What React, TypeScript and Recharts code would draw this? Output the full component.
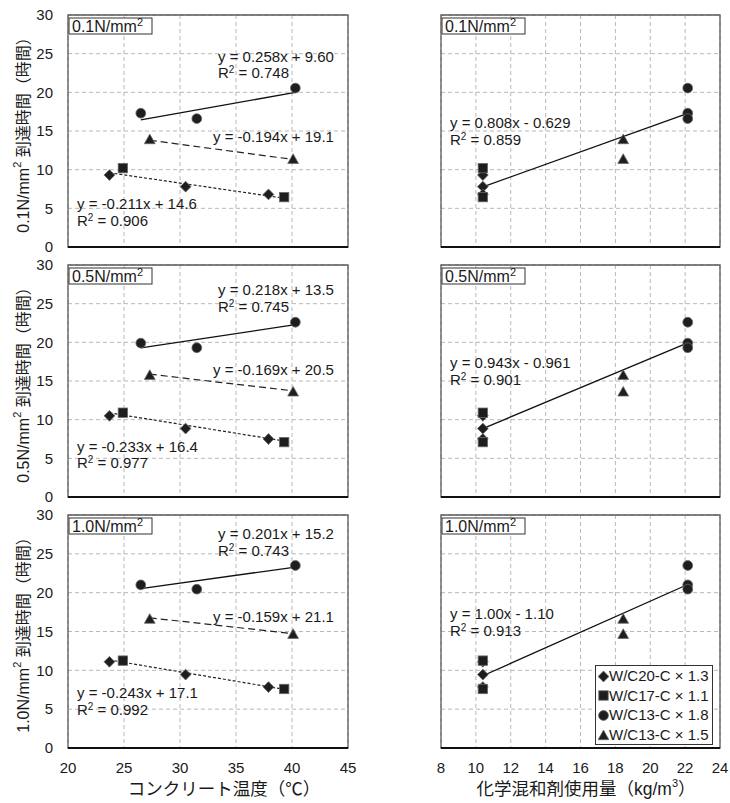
import React from 'react';
import {
  ScatterChart,
  Scatter,
  XAxis,
  YAxis,
  CartesianGrid,
  ReferenceLine,
  ReferenceArea,
  Legend,
} from 'recharts';

const FONT = '"Liberation Sans", Arial, "Noto Sans CJK JP", sans-serif';

const levels = ['0.1', '0.5', '1.0'];
const seriesNames = ['W/C20-C × 1.3', 'W/C17-C × 1.1', 'W/C13-C × 1.8', 'W/C13-C × 1.5'];

// コンクリート温度 (°C)
const tempW20 = [23.7, 30.5, 37.9];
const tempW17 = [24.9, 39.3];
const tempC18 = [26.5, 31.5, 40.3];
const tempC15 = [27.3, 40.1];

// 化学混和剤使用量 (kg/m3)
const doseW20 = [10.4, 10.4, 10.4];
const doseW17 = [10.4, 10.4];
const doseC18 = [22.15, 22.15, 22.15];
const doseC15 = [18.45, 18.45];

// 到達時間 (h), one row per stress level
const hoursW20 = [[9.3, 7.8, 6.8], [10.5, 8.85, 7.5], [11.1, 9.45, 7.85]];
const hoursW17 = [[10.2, 6.45], [10.9, 7.1], [11.25, 7.6]];
const hoursC18 = [[17.3, 16.6, 20.55], [19.9, 19.3, 22.6], [21.0, 20.45, 23.5]];
const hoursC15 = [[13.9, 11.35], [15.75, 13.6], [16.6, 14.65]];

// trend lines [slope, intercept]
const fitC18 = [[0.258, 9.6], [0.218, 13.5], [0.201, 15.2]];
const fitC15 = [[-0.194, 19.1], [-0.169, 20.5], [-0.159, 21.1]];
const fitW = [[-0.211, 14.6], [-0.233, 16.4], [-0.243, 17.1]];
const fitDose = [[0.808, -0.629], [0.943, -0.961], [1.0, -1.1]];

const eqC18 = ['y = 0.258x + 9.60', 'y = 0.218x + 13.5', 'y = 0.201x + 15.2'];
const r2C18 = ['0.748', '0.745', '0.743'];
const eqC15 = ['y = -0.194x + 19.1', 'y = -0.169x + 20.5', 'y = -0.159x + 21.1'];
const eqW = ['y = -0.211x + 14.6', 'y = -0.233x + 16.4', 'y = -0.243x + 17.1'];
const r2W = ['0.906', '0.977', '0.992'];
const eqDose = ['y = 0.808x - 0.629', 'y = 0.943x - 0.961', 'y = 1.00x - 1.10'];
const r2Dose = ['0.859', '0.901', '0.913'];

const yTicks = [0, 5, 10, 15, 20, 25, 30];
const tempTicks = [20, 25, 30, 35, 40, 45];
const doseTicks = [8, 10, 12, 14, 16, 18, 20, 22, 24];

// label baselines (px inside each chart): [eqC18, r2C18, eqC15, eqW, r2W, eqDose, r2Dose]
const labelY = [
  [62, 78, 142, 209, 226, 128, 145],
  [45, 62, 125, 202, 218, 118, 135],
  [39, 56, 122, 198, 215, 119, 136],
];

const MARK_FILL = '#1e1e1e';
const MARK_STROKE = '#6a6a6a';

function Marker({ kind, cx, cy }: { kind: number; cx: number; cy: number }) {
  if (kind === 0) {
    const r = 5.4;
    return (
      <path
        d={`M${cx},${cy - r}L${cx + r},${cy}L${cx},${cy + r}L${cx - r},${cy}Z`}
        fill={MARK_FILL}
        stroke={MARK_STROKE}
        strokeWidth={0.8}
      />
    );
  }
  if (kind === 1) {
    return <rect x={cx - 4.7} y={cy - 4.7} width={9.4} height={9.4} fill={MARK_FILL} stroke={MARK_STROKE} strokeWidth={0.8} />;
  }
  if (kind === 2) {
    return <circle cx={cx} cy={cy} r={4.9} fill={MARK_FILL} stroke={MARK_STROKE} strokeWidth={0.8} />;
  }
  return (
    <path
      d={`M${cx},${cy - 5.4}L${cx + 5.4},${cy + 4.2}L${cx - 5.4},${cy + 4.2}Z`}
      fill={MARK_FILL}
      stroke={MARK_STROKE}
      strokeWidth={0.8}
    />
  );
}

function segment(xs: number[], fit: number[]) {
  const x1 = Math.min(...xs);
  const x2 = Math.max(...xs);
  return [
    { x: x1, y: fit[0] * x1 + fit[1] },
    { x: x2, y: fit[0] * x2 + fit[1] },
  ];
}

function R2({ x, y, value }: { x: number; y: number; value: string }) {
  return (
    <text x={x} y={y} fontSize={15} fill="#1a1a1a" fontFamily={FONT}>
      R<tspan dy={-5} fontSize={10}>2</tspan>
      <tspan dy={5}> = {value}</tspan>
    </text>
  );
}

function renderLegend(props: any) {
  const payload = [...(props.payload || [])].sort(
    (a: any, b: any) => seriesNames.indexOf(a.value) - seriesNames.indexOf(b.value)
  );
  return (
    <div
      style={{
        border: '1px solid #333',
        background: '#fff',
        padding: '0px 3px 0px 2px',
        fontFamily: FONT,
        fontSize: 15,
        lineHeight: '19.6px',
        color: '#1a1a1a',
        whiteSpace: 'nowrap',
      }}
    >
      {payload.map((entry: any) => (
        <div key={entry.value} style={{ display: 'flex', alignItems: 'center' }}>
          <svg width={11} height={12}>
            <Marker kind={seriesNames.indexOf(entry.value)} cx={5.5} cy={6.5} />
          </svg>
          <span>{entry.value}</span>
        </div>
      ))}
    </div>
  );
}

function Panel({ level, kind }: { level: number; kind: 'temp' | 'dose' }) {
  const isTemp = kind === 'temp';
  const last = level === 2;
  const xs = isTemp ? [tempW20, tempW17, tempC18, tempC15] : [doseW20, doseW17, doseC18, doseC15];
  const ys = [hoursW20[level], hoursW17[level], hoursC18[level], hoursC15[level]];
  const series = xs.map((arr, s) => arr.map((x, i) => ({ x, y: ys[s][i] })));
  const domain: [number, number] = isTemp ? [20, 45] : [8, 24];
  const ticks = isTemp ? tempTicks : doseTicks;
  const width = 360;
  const height = last ? 303 : 262;
  const plotLeft = isTemp ? 68 : 71;
  const ly = labelY[level];

  return (
    <ScatterChart
      width={width}
      height={height}
      margin={{ top: 15, right: isTemp ? 12 : 10, left: isTemp ? 0 : 71, bottom: last ? 0 : 15 }}
    >
      <CartesianGrid stroke="#b8b8b8" strokeDasharray="4 3" />
      <XAxis
        type="number"
        dataKey="x"
        domain={domain}
        ticks={ticks}
        hide={!last}
        height={55}
        axisLine={false}
        tickLine={false}
        tickMargin={8}
        tick={{ fontSize: 15, fill: '#1a1a1a', fontFamily: FONT }}
        interval={0}
      />
      <YAxis
        type="number"
        dataKey="y"
        domain={[0, 30]}
        ticks={yTicks}
        hide={!isTemp}
        width={68}
        axisLine={false}
        tickLine={false}
        tickMargin={9}
        tick={{ fontSize: 15, fill: '#1a1a1a', fontFamily: FONT }}
        interval={0}
      />
      <ReferenceArea x1={domain[0]} x2={domain[1]} y1={0} y2={30} fill="none" stroke="#5a5a5a" strokeWidth={1.3} />
      <ReferenceLine y={0} stroke="#111" strokeWidth={2.2} />

      {isTemp ? (
        <>
          <ReferenceLine segment={segment(tempC18, fitC18[level])} stroke="#111" strokeWidth={1.3} />
          <ReferenceLine segment={segment(tempC15, fitC15[level])} stroke="#222" strokeWidth={1.2} strokeDasharray="7 4" />
          <ReferenceLine
            segment={segment([...tempW20, ...tempW17], fitW[level])}
            stroke="#222"
            strokeWidth={1.2}
            strokeDasharray="3 2"
          />
        </>
      ) : (
        <ReferenceLine
          segment={segment([...doseW20, ...doseW17, ...doseC18, ...doseC15], fitDose[level])}
          stroke="#111"
          strokeWidth={1.3}
        />
      )}

      {series.map((data, s) => (
        <Scatter
          key={seriesNames[s]}
          name={seriesNames[s]}
          data={data}
          isAnimationActive={false}
          shape={(p: any) => <Marker kind={s} cx={p.cx} cy={p.cy} />}
        />
      ))}

      {/* stress level box */}
      <rect x={plotLeft + 1} y={18} width={83} height={16} fill="#fff" stroke="#333" strokeWidth={1} />
      <text x={plotLeft + 4} y={32} fontSize={16} fill="#1a1a1a" fontFamily={FONT}>
        {levels[level]}N/mm<tspan dy={-6} fontSize={11}>2</tspan>
      </text>

      {isTemp ? (
        <>
          <text x={218} y={ly[0]} fontSize={15} fill="#1a1a1a" fontFamily={FONT}>{eqC18[level]}</text>
          <R2 x={218} y={ly[1]} value={r2C18[level]} />
          <text x={213} y={ly[2]} fontSize={15} fill="#1a1a1a" fontFamily={FONT}>{eqC15[level]}</text>
          <text x={77} y={ly[3]} fontSize={15} fill="#1a1a1a" fontFamily={FONT}>{eqW[level]}</text>
          <R2 x={77} y={ly[4]} value={r2W[level]} />
          <text
            x={23}
            y={131}
            transform="rotate(-90 23 131)"
            textAnchor="middle"
            dominantBaseline="central"
            fontSize={16}
            fill="#1a1a1a"
            fontFamily={FONT}
          >
            {levels[level]}N/mm<tspan dy={-6} fontSize={11}>2</tspan>
            <tspan dy={6}> 到達時間（時間）</tspan>
          </text>
        </>
      ) : (
        <>
          <text x={80} y={ly[5]} fontSize={15} fill="#1a1a1a" fontFamily={FONT}>{eqDose[level]}</text>
          <R2 x={80} y={ly[6]} value={r2Dose[level]} />
        </>
      )}

      {last && (
        <text
          x={isTemp ? 224 : 216}
          y={289}
          textAnchor="middle"
          dominantBaseline="central"
          fontSize={17.5}
          fill="#1a1a1a"
          fontFamily={FONT}
        >
          {isTemp ? 'コンクリート温度（℃）' : (
            <>
              化学混和剤使用量（kg/m<tspan dy={-6} fontSize={11}>3</tspan>
              <tspan dy={6}>）</tspan>
            </>
          )}
        </text>
      )}

      {last && !isTemp && (
        <Legend
          layout="vertical"
          align="center"
          verticalAlign="middle"
          content={renderLegend}
          wrapperStyle={{ left: 225, top: 165, width: 'auto' }}
        />
      )}
    </ScatterChart>
  );
}

export default function App() {
  return (
    <div style={{ position: 'absolute', left: 0, top: 0, width: 730, height: 803, background: '#fff' }}>
      {levels.map((_, level) => (
        <React.Fragment key={level}>
          <div style={{ position: 'absolute', left: 0, top: level * 250 }}>
            <Panel level={level} kind="temp" />
          </div>
          <div style={{ position: 'absolute', left: 370, top: level * 250 }}>
            <Panel level={level} kind="dose" />
          </div>
        </React.Fragment>
      ))}
    </div>
  );
}
